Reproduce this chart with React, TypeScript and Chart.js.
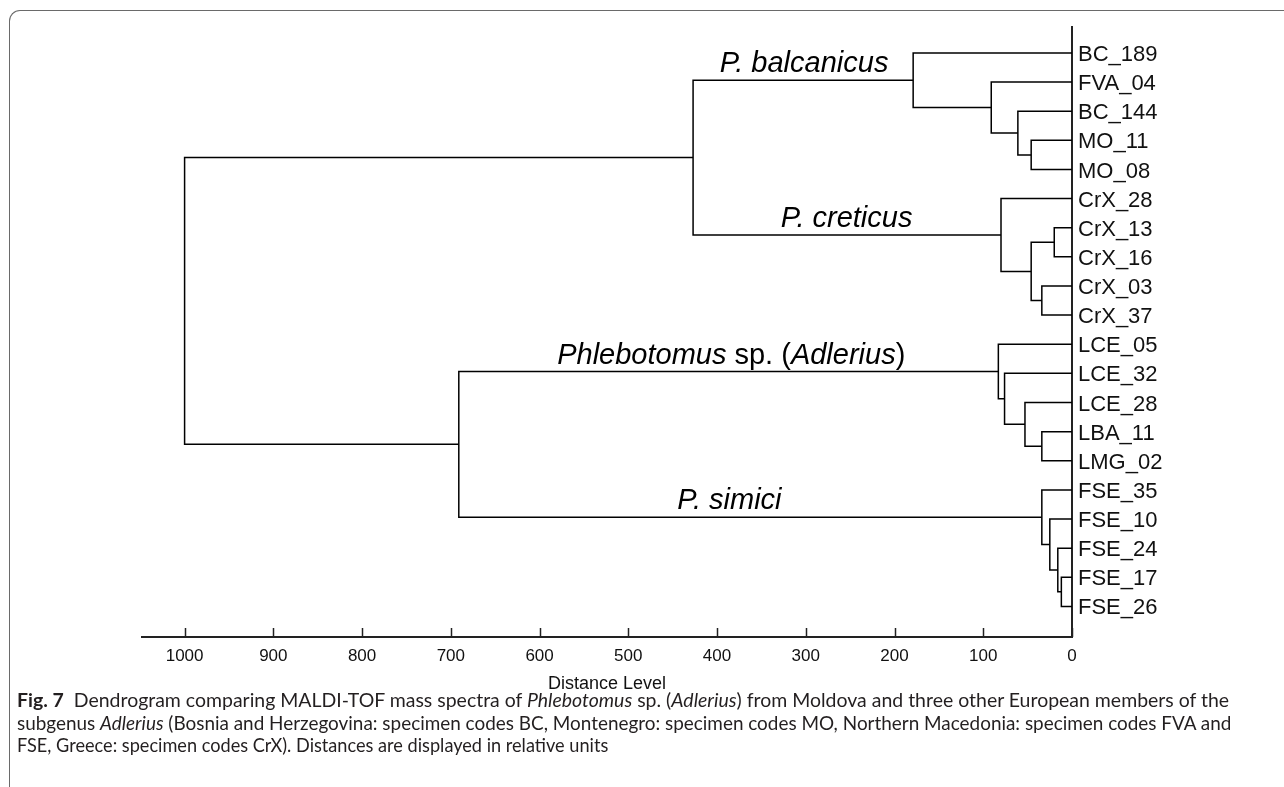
import React, { useEffect, useRef } from 'react';
import { Chart, registerables } from 'chart.js';

Chart.register(...registerables);

// ---------- data ----------
const leafLabels = [
  'BC_189', 'FVA_04', 'BC_144', 'MO_11', 'MO_08',
  'CrX_28', 'CrX_13', 'CrX_16', 'CrX_03', 'CrX_37',
  'LCE_05', 'LCE_32', 'LCE_28', 'LBA_11', 'LMG_02',
  'FSE_35', 'FSE_10', 'FSE_24', 'FSE_17', 'FSE_26',
];

// merges: node ids 0..19 are leaves, merge k creates node 20 + k
const mergeLeft = [3, 2, 1, 0, 6, 8, 24, 5, 23, 13, 12, 11, 10, 18, 17, 16, 15, 32, 28];
const mergeRight = [4, 20, 21, 22, 7, 9, 25, 26, 27, 14, 29, 30, 31, 19, 33, 34, 35, 36, 37];
const mergeHeight = [46, 61, 91, 179, 20, 34, 46, 80, 427, 34, 53, 76, 83, 12, 16, 25, 34, 691, 1000];

const xTickValues = [0, 100, 200, 300, 400, 500, 600, 700, 800, 900, 1000];
const axisTitle = 'Distance Level';

// clade labels: runs of [text, italic]
const cladeRuns: [string, boolean][][] = [
  [['P. balcanicus', true]],
  [['P. creticus', true]],
  [['Phlebotomus', true], [' sp. (', false], ['Adlerius', true], [')', false]],
  [['P. simici', true]],
];
const cladeAnchorX = [302, 254, 384, 386];
const cladeAnchorY = [0.65, 5.96, 10.68, 15.66];

// ---------- build dendrogram segments ----------
const nLeaves = leafLabels.length;
const nodeX: number[] = [];
const nodeY: number[] = [];
for (let i = 0; i < nLeaves; i++) {
  nodeX.push(0);
  nodeY.push(i);
}
mergeHeight.forEach((h, k) => {
  nodeX.push(h);
  nodeY.push((nodeY[mergeLeft[k]] + nodeY[mergeRight[k]]) / 2);
});

const datasets = mergeHeight.map((h, k) => {
  const l = mergeLeft[k];
  const r = mergeRight[k];
  return {
    type: 'scatter' as const,
    showLine: true,
    data: [
      { x: nodeX[l], y: nodeY[l] },
      { x: h, y: nodeY[l] },
      { x: h, y: nodeY[r] },
      { x: nodeX[r], y: nodeY[r] },
    ],
    borderColor: '#000',
    borderWidth: 1.5,
    pointRadius: 0,
    tension: 0,
  };
});

const FONT = "'Liberation Sans', Arial, sans-serif";
const CLADE_SIZE = 29;

const decorPlugin = {
  id: 'decor',
  afterDraw(chart: any) {
    const ctx = chart.ctx;
    const xs = chart.scales.x;
    const ys = chart.scales.y;
    ctx.save();
    // upward tick marks
    ctx.strokeStyle = '#222';
    ctx.lineWidth = 1.5;
    xTickValues.forEach((v) => {
      const px = Math.round(xs.getPixelForValue(v)) + 0.5;
      ctx.beginPath();
      ctx.moveTo(px, xs.top);
      ctx.lineTo(px, xs.top - 9);
      ctx.stroke();
    });
    // axis title
    ctx.fillStyle = '#111';
    ctx.font = `18px ${FONT}`;
    ctx.textAlign = 'center';
    ctx.textBaseline = 'alphabetic';
    ctx.fillText(axisTitle, (xs.left + xs.right) / 2, xs.top + 52);
    // clade labels
    ctx.textAlign = 'left';
    cladeRuns.forEach((runs, i) => {
      let total = 0;
      const widths = runs.map(([t, it]) => {
        ctx.font = `${it ? 'italic ' : ''}${CLADE_SIZE}px ${FONT}`;
        const w = ctx.measureText(t).width;
        total += w;
        return w;
      });
      let x = xs.getPixelForValue(cladeAnchorX[i]) - total / 2;
      const y = ys.getPixelForValue(cladeAnchorY[i]);
      runs.forEach(([t, it], j) => {
        ctx.font = `${it ? 'italic ' : ''}${CLADE_SIZE}px ${FONT}`;
        ctx.fillStyle = '#000';
        ctx.fillText(t, x, y);
        x += widths[j];
      });
    });
    ctx.restore();
  },
};

export default function App() {
  const ref = useRef<HTMLCanvasElement | null>(null);

  useEffect(() => {
    if (!ref.current) return;
    const chart = new Chart(ref.current, {
      type: 'scatter',
      data: { datasets: datasets as any },
      options: {
        animation: false,
        responsive: false,
        maintainAspectRatio: false,
        layout: { padding: { left: 142, top: 27, right: 0, bottom: 0 } },
        plugins: { legend: { display: false }, tooltip: { enabled: false } },
        scales: {
          x: {
            type: 'linear',
            position: 'bottom',
            reverse: true,
            min: 0,
            max: 1048,
            afterBuildTicks: (s: any) => {
              s.ticks = xTickValues.map((v) => ({ value: v }));
            },
            afterFit: (s: any) => {
              s.height = 150;
            },
            grid: { display: false, drawTicks: false },
            border: { display: true, color: '#222', width: 2 },
            ticks: {
              color: '#111',
              font: { family: FONT, size: 17 },
              padding: 9,
              maxRotation: 0,
              autoSkip: false,
              callback: (v: any) => String(v),
            },
          },
          y: {
            type: 'linear',
            position: 'right',
            reverse: true,
            min: -0.89,
            max: 20.05,
            afterBuildTicks: (s: any) => {
              s.ticks = leafLabels.map((_, i) => ({ value: i }));
            },
            afterFit: (s: any) => {
              s.width = 212;
            },
            grid: { display: false, drawTicks: false },
            border: { display: true, color: '#222', width: 2 },
            ticks: {
              color: '#111',
              font: { family: FONT, size: 22 },
              padding: 6,
              labelOffset: 2,
              autoSkip: false,
              callback: (v: any) => leafLabels[v as number] ?? '',
            },
          },
        },
      },
      plugins: [decorPlugin],
    });
    return () => chart.destroy();
  }, []);

  const capFont = "Lato, 'Open Sans', sans-serif";
  const lineStyle = (sx: number): React.CSSProperties => ({
    whiteSpace: 'nowrap',
    height: 22.5,
    lineHeight: '22.5px',
    transform: `scaleX(${sx})`,
    transformOrigin: 'left top',
  });

  return (
    <div
      style={{
        position: 'absolute',
        left: 0,
        top: 0,
        width: 1284,
        height: 787,
        background: '#fff',
        overflow: 'hidden',
      }}
    >
      <div
        style={{
          position: 'absolute',
          left: 9,
          top: 10,
          width: 1300,
          height: 800,
          borderTop: '1.5px solid #6a6a6a',
          borderLeft: '1.5px solid #6a6a6a',
          borderTopLeftRadius: 11,
        }}
      />
      <canvas
        ref={ref}
        width={1284}
        height={787}
        style={{ position: 'absolute', left: 0, top: 0, width: 1284, height: 787 }}
      />
      <div
        style={{
          position: 'absolute',
          left: 17,
          top: 689,
          fontFamily: capFont,
          fontSize: 19,
          color: '#231f20',
        }}
      >
        <div style={lineStyle(1.024)}>
          <b>Fig. 7</b>&nbsp; Dendrogram comparing MALDI-TOF mass spectra of <i>Phlebotomus</i> sp. (<i>Adlerius</i>) from Moldova and three other European members of the
        </div>
        <div style={lineStyle(0.995)}>
          subgenus <i>Adlerius</i> (Bosnia and Herzegovina: specimen codes BC, Montenegro: specimen codes MO, Northern Macedonia: specimen codes FVA and
        </div>
        <div style={lineStyle(0.955)}>
          FSE, Greece: specimen codes CrX). Distances are displayed in relative units
        </div>
      </div>
    </div>
  );
}
